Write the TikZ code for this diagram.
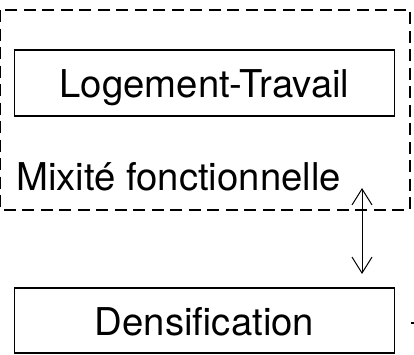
\documentclass[tikz,border=0pt]{standalone}
\usepackage{fontspec}
\setmainfont{TeX Gyre Heros}
\usetikzlibrary{arrows.meta}
\tikzset{
	boxnode/.style={draw, line width=1.2pt, inner sep=0pt, minimum width=380pt, text height=47pt, font=\fontsize{38.3}{44}\selectfont},
	groupline/.style={line width=2.2pt, dash pattern=on 12pt off 6.5pt},
	linkarrow/.style={line width=1pt, {Straight Barb[length=16pt,width=20pt,line width=1pt]}-{Straight Barb[length=16pt,width=20pt,line width=1pt]}}
}

\begin{document}
\begin{tikzpicture}[x=1pt, y=-1pt]
			%%%%% START %%%%%
			
			\useasboundingbox (0, 0) rectangle (414, 354);
			
			\draw[groupline] (0.3, 10) rectangle (410, 210);
			
			\node[boxnode, text depth=19pt] (logement) at (204.5, 83) {Logement-Travail};
			\node[inner sep=0pt, anchor=base west, font=\fontsize{38.3}{44}\selectfont] (mixite) at (16, 190) {Mixité fonctionnelle};
			
			\node[boxnode, text depth=18pt] (densif) at (204.5, 320.5) {Densification};
			
			\coordinate (haut) at (362, 188);
			\coordinate (bas) at (362, 274);
			\draw[linkarrow] (haut) -- (bas);
			
			\draw[line width=1.2pt] (411, 323) -- (414, 323);
			
			%%%%% END %%%%%
\end{tikzpicture}
\end{document}
